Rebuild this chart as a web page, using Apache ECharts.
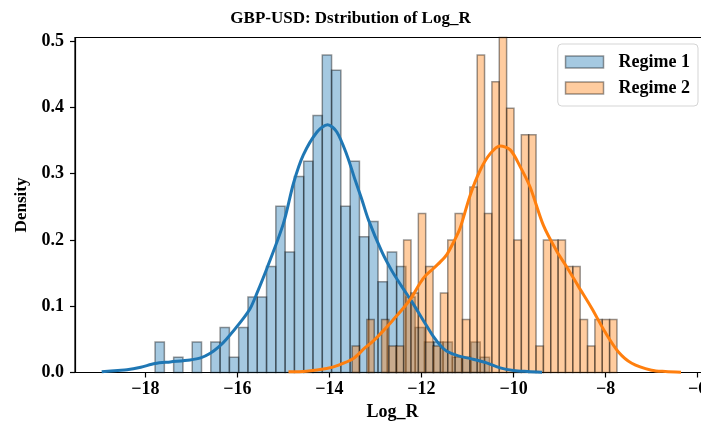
<!DOCTYPE html>
<html>
<head>
<meta charset="utf-8">
<script src="https://cdn.jsdelivr.net/npm/echarts@6/dist/echarts.min.js"></script>
<style>html,body{margin:0;padding:0;background:#fff}#c{width:701px;height:430px}</style>
</head>
<body>
<div id="c"></div>
<script>
// ---- data ----
const titleText = 'GBP-USD: Dstribution of Log_R';
const xAxisName = 'Log_R';
const yAxisName = 'Density';
const seriesNames = ['Regime 1', 'Regime 2'];
const xTicks = [-18, -16, -14, -12, -10, -8, -6];
const yTicks = [0.0, 0.1, 0.2, 0.3, 0.4, 0.5];

// histogram bins (36 bins each)
const regime1BinStart = -17.79;
const regime1BinWidth = 0.2019;
const regime1Density = [0.046,0,0.023,0,0.046,0,0.046,0.068,0.023,0.068,0.114,0.114,0.160,0.251,0.182,0.296,0.319,0.388,0.479,0.456,0.251,0.319,0.205,0.228,0.137,0.182,0.160,0.114,0.068,0.046,0.046,0.046,0.023,0.023,0.046,0.023];

const regime2BinStart = -13.507;
const regime2BinWidth = 0.15986;
const regime2Density = [0.040,0,0.080,0,0.080,0.040,0.040,0.200,0.120,0.240,0.160,0.040,0.120,0.200,0.240,0.080,0.280,0.479,0.240,0.439,0.519,0.399,0.200,0.359,0.359,0.040,0.200,0.200,0.200,0.160,0.160,0.080,0.040,0.080,0.080,0.080];

// KDE curves
const kde1X = [-18.95,-18.6,-18.4,-18.1,-17.79,-17.46,-17.03,-16.8,-16.59,-16.4,-16.23,-15.9,-15.72,-15.58,-15.36,-15.0,-14.78,-14.57,-14.27,-14.04,-13.84,-13.62,-13.44,-13.3,-13.15,-12.86,-12.64,-12.43,-12.21,-11.92,-11.74,-11.58,-11.45,-11.2,-10.94,-10.6,-10.29,-10.0,-9.7,-9.38];
const kde1Y = [0.001,0.003,0.004,0.008,0.0136,0.016,0.019,0.022,0.029,0.039,0.051,0.079,0.097,0.119,0.157,0.225,0.286,0.328,0.363,0.374,0.363,0.328,0.290,0.262,0.230,0.182,0.153,0.130,0.107,0.074,0.054,0.040,0.032,0.025,0.021,0.015,0.007,0.003,0.0015,0.0005];

const kde2X = [-14.89,-14.5,-14.06,-13.8,-13.48,-13.23,-13.04,-12.79,-12.61,-12.36,-12.2,-12.03,-11.9,-11.74,-11.59,-11.45,-11.3,-11.16,-10.94,-10.72,-10.51,-10.29,-10.07,-9.85,-9.64,-9.35,-9.06,-8.85,-8.59,-8.30,-8.01,-7.72,-7.43,-7.0,-6.7,-6.36];
const kde2Y = [0.001,0.002,0.006,0.011,0.021,0.037,0.048,0.066,0.080,0.100,0.115,0.135,0.147,0.157,0.167,0.178,0.197,0.218,0.268,0.306,0.330,0.342,0.336,0.310,0.280,0.222,0.183,0.160,0.130,0.097,0.061,0.031,0.014,0.0035,0.0015,0.0005];

// ---- build ----
const FONT = '"Liberation Serif", "Times New Roman", serif';
const fill1 = 'rgba(31,119,180,0.4)';
const fill2 = 'rgba(255,127,14,0.4)';
const edge = 'rgba(0,0,0,0.4)';

function binData(start, width, dens) {
  return dens.map((d, i) => [start + i * width, start + (i + 1) * width, d]);
}
function makeRender(fillColor) {
  return function (params, api) {
    const h = api.value(2);
    if (!h) return null;
    const p0 = api.coord([api.value(0), h]);
    const p1 = api.coord([api.value(1), 0]);
    const shape = echarts.graphic.clipRectByRect(
      { x: p0[0], y: p0[1], width: p1[0] - p0[0], height: p1[1] - p0[1] },
      { x: params.coordSys.x, y: params.coordSys.y, width: params.coordSys.width, height: params.coordSys.height }
    );
    if (!shape) return null;
    return { type: 'rect', shape: shape, style: { fill: fillColor, stroke: edge, lineWidth: 1.5 } };
  };
}

const chart = echarts.init(document.getElementById('c'), null, { renderer: 'canvas' });
const fmtX = v => (v < 0 ? '\u2212' : '') + Math.abs(v);

chart.setOption({
  animation: false,
  backgroundColor: '#fff',
  title: {
    text: titleText, left: 'center', top: 5,
    textStyle: { fontFamily: FONT, fontWeight: 'bold', fontSize: 17, color: '#000' }
  },
  grid: { left: 75, top: 37.5, width: 635, height: 335, outerBoundsMode: 'none', containLabel: false,
    show: true, borderColor: '#000', borderWidth: 1.2, backgroundColor: 'transparent' },
  legend: {
    orient: 'vertical', right: 3, top: 44,
    data: [
      { name: seriesNames[0], icon: 'rect', itemStyle: { color: fill1, borderColor: edge, borderWidth: 1.5 } },
      { name: seriesNames[1], icon: 'rect', itemStyle: { color: fill2, borderColor: edge, borderWidth: 1.5 } }
    ],
    itemWidth: 38, itemHeight: 12, itemGap: 8,
    padding: [9, 8, 9, 7],
    borderColor: '#d5d5d5', borderWidth: 1, borderRadius: 4, backgroundColor: 'rgba(255,255,255,0.8)',
    textStyle: { fontFamily: FONT, fontWeight: 'bold', fontSize: 18, color: '#000', padding: [0, 0, 0, 10] }
  },
  xAxis: {
    type: 'value', min: -19.53, max: -5.73,
    name: xAxisName, nameLocation: 'middle', nameGap: 30,
    nameTextStyle: { fontFamily: FONT, fontWeight: 'bold', fontSize: 18, color: '#000' },
    axisLine: { show: true, onZero: false, lineStyle: { color: '#000', width: 1.2 } },
    axisTick: { show: true, length: 5, lineStyle: { color: '#000', width: 1.2 }, customValues: xTicks },
    axisLabel: { customValues: xTicks, formatter: fmtX, margin: 8, fontFamily: FONT, fontWeight: 'bold', fontSize: 18, color: '#000' },
    splitLine: { show: false }
  },
  yAxis: {
    type: 'value', min: 0, max: 0.5056,
    name: yAxisName, nameLocation: 'middle', nameGap: 45, nameRotate: 90,
    nameTextStyle: { fontFamily: FONT, fontWeight: 'bold', fontSize: 17, color: '#000' },
    axisLine: { show: true, lineStyle: { color: '#000', width: 1.2 } },
    axisTick: { show: true, length: 5, lineStyle: { color: '#000', width: 1.2 }, customValues: yTicks },
    axisLabel: { customValues: yTicks, formatter: v => v.toFixed(1), margin: 11, fontFamily: FONT, fontWeight: 'bold', fontSize: 18, color: '#000' },
    splitLine: { show: false }
  },
  series: [
    { name: seriesNames[0], type: 'custom', renderItem: makeRender(fill1), data: binData(regime1BinStart, regime1BinWidth, regime1Density),
      encode: { x: [0, 1], y: 2 }, itemStyle: { color: fill1, borderColor: edge }, z: 2 },
    { name: seriesNames[1], type: 'custom', renderItem: makeRender(fill2), data: binData(regime2BinStart, regime2BinWidth, regime2Density),
      encode: { x: [0, 1], y: 2 }, itemStyle: { color: fill2, borderColor: edge }, z: 3 },
    { name: 'kde1', type: 'line', data: kde1X.map((x, i) => [x, kde1Y[i]]), smooth: 0.3, showSymbol: false, symbol: 'none',
      lineStyle: { color: '#1f77b4', width: 3 }, itemStyle: { color: '#1f77b4' }, z: 5 },
    { name: 'kde2', type: 'line', data: kde2X.map((x, i) => [x, kde2Y[i]]), smooth: 0.3, showSymbol: false, symbol: 'none',
      lineStyle: { color: '#ff7f0e', width: 3 }, itemStyle: { color: '#ff7f0e' }, z: 6 }
  ]
});
</script>
</body>
</html>
